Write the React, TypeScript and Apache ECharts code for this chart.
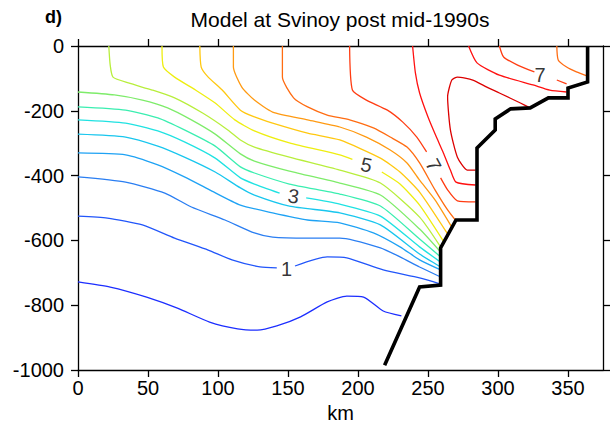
import React, { useEffect, useRef } from "react";
import * as echarts from "echarts";

// Axis ticks
const kmTicks = [0, 50, 100, 150, 200, 250, 300, 350];
const depthMin = -1000;
const depthMax = 0;
const kmMin = 0;
const kmMax = 375;

// Contour lines: [km, depth]; null = gap for an inline label
const c05 = [[0,-728],[23,-744],[49,-775],[71,-809],[94,-852],[114,-873],[128,-877],[142,-864],[159,-836],[178,-790],[192,-772],[204,-775],[218,-818],[231,-833]];
const c10 = [[0,-525],[21,-531],[46,-552],[69,-593],[93,-630],[110,-660],[130,-682],[142,-685],null,[155,-679],[178,-651],[192,-654],[218,-691],[244,-716],[259,-735]];
const c15 = [[0,-404],[34,-420],[62,-454],[81,-497],[105,-537],[126,-577],[139,-590],[164,-593],[187,-593],[216,-623],[230,-651],[244,-682],[259,-713]];
const c20 = [[0,-330],[34,-336],[57,-367],[76,-404],[94,-444],[116,-491],[139,-515],[164,-537],[187,-546],[211,-577],[230,-620],[244,-660],[259,-691]];
const c25 = [[0,-272],[34,-281],[57,-309],[76,-343],[98,-389],[116,-438],[126,-460],[151,-494],[187,-515],[216,-552],[244,-642],[259,-682]];
const c30 = [[0,-228],[34,-238],[57,-262],[76,-296],[98,-346],[116,-407],[126,-426],[144,-454],null,[163,-469],[187,-488],[216,-525],[244,-620],[259,-667]];
const c35 = [[0,-188],[34,-198],[57,-222],[76,-259],[98,-309],[116,-373],[126,-392],[151,-426],[187,-457],[216,-494],[244,-596],[259,-651]];
const c40 = [[0,-142],[26,-151],[46,-167],[64,-191],[81,-228],[98,-272],[116,-333],[126,-355],[151,-386],[187,-423],[216,-460],[244,-565],[259,-636]];
const c45 = [[22,0],[23,-59],[25,-96],[36,-114],[53,-136],[69,-160],[89,-207],[107,-259],[116,-290],[126,-312],[151,-343],[187,-383],[216,-423],[244,-528],[259,-620]];
const c50 = [[60,0],[61,-65],[69,-96],[84,-136],[98,-176],[112,-228],[126,-262],[151,-299],[187,-336],[196,-350],null,[217,-389],[230,-426],[244,-491],[261,-602]];
const c55 = [[87,0],[88,-65],[93,-96],[103,-136],[116,-198],[126,-219],[139,-238],[164,-269],[187,-290],[216,-346],[230,-389],[244,-451],[264,-580]];
const c60 = [[111,0],[111,-65],[117,-127],[126,-167],[139,-204],[164,-228],[187,-250],[206,-281],[223,-321],[235,-361],[244,-414],[255,-475],[267,-559]];
const c65a = [[146,0],[146,-96],[154,-160],[164,-188],[178,-213],[194,-228],[211,-253],[223,-281],[235,-312],[244,-361],[255,-444],[264,-506],[270,-540]];
const c65b = [[342,0],[343,-43],[349,-65],[356,-80],[364,-93]];
const c70a = [[194,0],[196,-136],[206,-167],[221,-198],[232,-235],[242,-281],[249,-327],null,[259,-407],[264,-444],[271,-478],[284,-481]];
const c70b = [[301,0],[304,-34],[314,-59],[326,-80],null,[342,-105],[349,-117]];
const c75a = [[239,0],[241,-83],[244,-145],[250,-219],[256,-281],[261,-330],[266,-383],[270,-420],[284,-429]];
const c75b = [[279,0],[285,-52],[301,-90],[325,-120],[337,-136],[349,-142]];
const c80 = [[284,-383],[278,-383],[271,-343],[266,-259],[264,-157],[267,-105],[271,-96],[282,-105],[292,-127],[301,-145],[316,-176],[323,-191]];

// Bathymetry
const bathy = [[364,0],[364,-111],[350,-130],[350,-160],[336,-160],[323,-191],[309,-194],[298,-225],[298,-259],[285,-315],[285,-537],[270,-537],[259,-623],[259,-738],[244,-744],[219,-985]];

// Contour labels
const labelKm = [149, 154, 206, 254, 330];
const labelDepth = [-688, -463, -367, -367, -90];
const labelText = ["1", "3", "5", "7", "7"];

const contours = [
  { level: 0.5, pts: c05 },
  { level: 1.0, pts: c10 },
  { level: 1.5, pts: c15 },
  { level: 2.0, pts: c20 },
  { level: 2.5, pts: c25 },
  { level: 3.0, pts: c30 },
  { level: 3.5, pts: c35 },
  { level: 4.0, pts: c40 },
  { level: 4.5, pts: c45 },
  { level: 5.0, pts: c50 },
  { level: 5.5, pts: c55 },
  { level: 6.0, pts: c60 },
  { level: 6.5, pts: c65a },
  { level: 6.5, pts: c65b },
  { level: 7.0, pts: c70a },
  { level: 7.0, pts: c70b },
  { level: 7.5, pts: c75a },
  { level: 7.5, pts: c75b },
  { level: 8.0, pts: c80 },
];

const palette: Record<string, string> = {
  "0.5": "#1c2eff",
  "1": "#2256fa",
  "1.5": "#2a7ef2",
  "2": "#1ea2f4",
  "2.5": "#18c6ee",
  "3": "#20e2e2",
  "3.5": "#3aeeb0",
  "4": "#7eec6a",
  "4.5": "#b8ee3c",
  "5": "#eeee10",
  "5.5": "#ffc810",
  "6": "#ff9a12",
  "6.5": "#ff6c12",
  "7": "#ff3c12",
  "7.5": "#ff1010",
  "8": "#dc0000",
};

function splitSegments(pts: any[]) {
  const segs: number[][][] = [];
  let cur: number[][] = [];
  for (const p of pts) {
    if (p === null) {
      if (cur.length) segs.push(cur);
      cur = [];
    } else cur.push(p);
  }
  if (cur.length) segs.push(cur);
  return segs;
}

export default function App() {
  const ref = useRef<HTMLDivElement>(null);
  useEffect(() => {
    const chart = echarts.init(ref.current!, undefined, { renderer: "svg" });
    const font = "'Liberation Sans', Arial, Helvetica, sans-serif";
    const axisLineStyle = { color: "#000", width: 1.3 };
    const series: any[] = [];
    contours.forEach((c) => {
      splitSegments(c.pts).forEach((seg) => {
        series.push({
          type: "line",
          data: seg,
          symbol: "none",
          smooth: 0.2,
          silent: true,
          lineStyle: { color: palette[String(c.level)], width: 1.3 },
          z: 2,
        });
      });
    });
    series.push({
      type: "line",
      data: bathy,
      symbol: "none",
      silent: true,
      lineStyle: { color: "#000", width: 3.6, join: "miter" },
      z: 3,
    });
    const rotations = [0, -8, -12, -62, 0];
    series.push({
      type: "scatter",
      symbolSize: 1,
      itemStyle: { color: "transparent" },
      silent: true,
      z: 4,
      data: labelKm.map((k, i) => ({
        value: [k, labelDepth[i]],
        name: labelText[i],
        label: { rotate: rotations[i] },
      })),
      label: {
        show: true,
        position: "inside",
        formatter: (p: any) => p.name,
        fontSize: 20,
        color: "#000",
        fontFamily: font,
      },
    });

    chart.setOption({
      animation: false,
      backgroundColor: "#fff",
      grid: { left: 78, top: 46, right: 10, bottom: 74, containLabel: false },
      graphic: [
        {
          type: "text",
          left: 45,
          top: 8,
          style: { text: "d)", font: `bold 18px ${font}`, fill: "#000" },
        },
        {
          type: "text",
          x: 340,
          y: 19,
          style: {
            text: "Model at Svinoy post mid-1990s",
            font: `21px ${font}`,
            fill: "#000",
            textAlign: "center",
            textVerticalAlign: "middle",
          },
        },
      ],
      xAxis: [
        {
          type: "value",
          min: kmMin,
          max: kmMax,
          position: "bottom",
          name: "km",
          nameLocation: "middle",
          nameGap: 28,
          nameTextStyle: { fontSize: 20, color: "#000", fontFamily: font },
          axisLine: { show: true, onZero: false, lineStyle: axisLineStyle },
          axisTick: { show: true, length: 7, customValues: kmTicks, lineStyle: axisLineStyle },
          axisLabel: {
            customValues: kmTicks,
            fontSize: 20,
            color: "#000",
            fontFamily: font,
            margin: 8,
            formatter: (v: number) => String(v),
          },
          splitLine: { show: false },
        },
        {
          type: "value",
          min: kmMin,
          max: kmMax,
          position: "top",
          axisLine: { show: true, onZero: false, lineStyle: axisLineStyle },
          axisTick: { show: true, length: 7, customValues: kmTicks, lineStyle: axisLineStyle },
          axisLabel: { show: false },
          splitLine: { show: false },
        },
      ],
      yAxis: [
        {
          type: "value",
          min: depthMin,
          max: depthMax,
          interval: 200,
          position: "left",
          axisLine: { show: true, onZero: false, lineStyle: axisLineStyle },
          axisTick: { show: true, length: 7, lineStyle: axisLineStyle },
          axisLabel: {
            fontSize: 20,
            color: "#000",
            fontFamily: font,
            margin: 14,
            formatter: (v: number) => String(v),
          },
          splitLine: { show: false },
        },
        {
          type: "value",
          min: depthMin,
          max: depthMax,
          interval: 200,
          position: "right",
          axisLine: { show: true, onZero: false, lineStyle: axisLineStyle },
          axisTick: { show: true, length: 7, lineStyle: axisLineStyle },
          axisLabel: { show: false },
          splitLine: { show: false },
        },
      ],
      series,
    });
    return () => chart.dispose();
  }, []);
  return (
    <div
      ref={ref}
      style={{ position: "fixed", left: 0, top: 0, width: 613, height: 444, background: "#fff" }}
    />
  );
}
